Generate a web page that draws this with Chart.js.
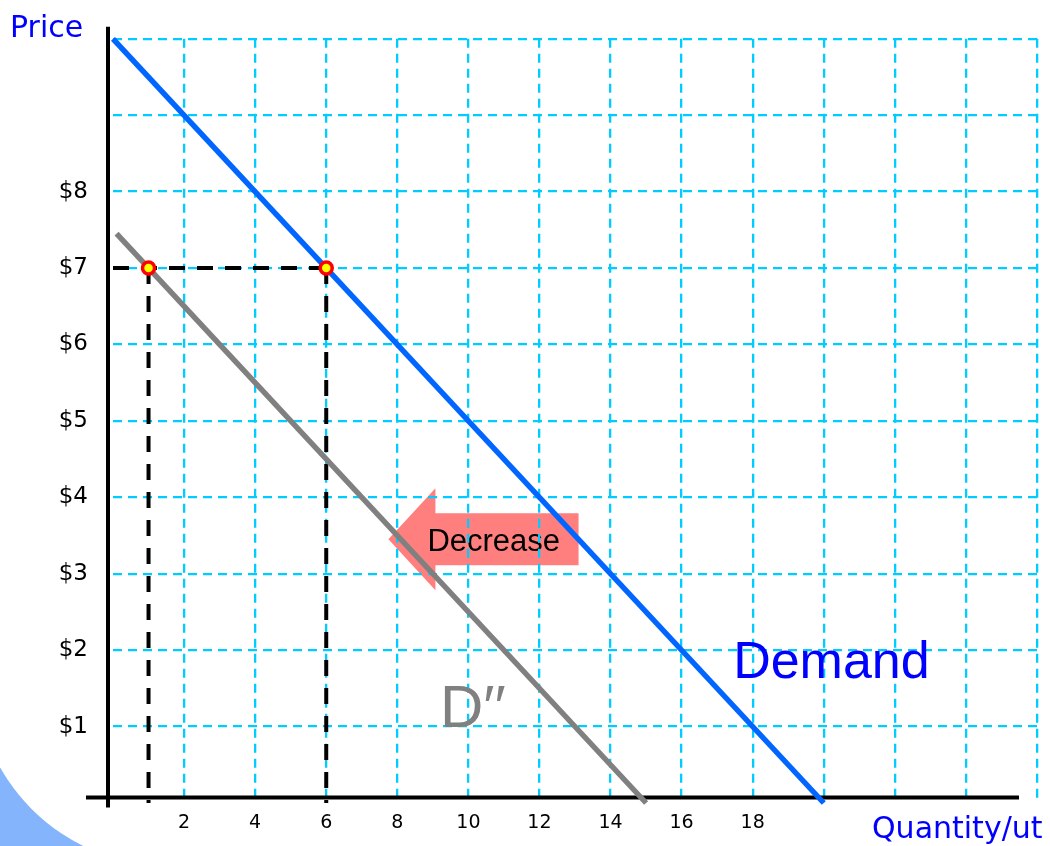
<!DOCTYPE html>
<html>
<head>
<meta charset="utf-8">
<title>Decrease in Demand</title>
<script src="https://cdn.jsdelivr.net/npm/chart.js@4.4.1/dist/chart.umd.min.js"></script>
<style>
  html, body { margin: 0; padding: 0; background: #ffffff; }
  canvas { display: block; }
</style>
</head>
<body>
<canvas id="chart" width="1050" height="846"></canvas>
<script>
// Original demand curve (quantity, price)
const demandQ = [0, 20];
const demandP = [10, 0];

// Demand after the decrease (D'')
const decreasedQ = [0.1, 15];
const decreasedP = [7.45, 0];

// Quantities demanded at a price of $7 on each curve
const pointQ = [1, 6];
const pointP = [7, 7];

// Axis ticks
const xTickValues = [0, 2, 4, 6, 8, 10, 12, 14, 16, 18, 20, 22, 24, 26];
const xTickLabels = ['', '2', '4', '6', '8', '10', '12', '14', '16', '18', '', '', '', ''];
const yTickValues = [0, 1, 2, 3, 4, 5, 6, 7, 8, 9, 10];
const yTickLabels = ['', '$1', '$2', '$3', '$4', '$5', '$6', '$7', '$8', '', ''];

// Shift arrow: from quantity 13.1 back to 7.75 at price 3.45
const arrowQ = [13.1, 7.75];
const arrowP = 3.45;

const toPoints = (qs, ps) => qs.map((q, i) => ({ x: q, y: ps[i] }));

const GRID = '#00CCFF';
const BLUE_TEXT = '#0000FF';

const decor = {
  id: 'decor',
  beforeDraw(chart) {
    const { ctx } = chart;
    const xs = chart.scales.x, ys = chart.scales.y;

    // slide swoosh in the lower-left corner
    ctx.save();
    ctx.beginPath();
    ctx.rect(0, 740, 120, 106);
    ctx.clip();
    ctx.fillStyle = '#84B4FB';
    ctx.fillRect(0, 740, 120, 106);
    ctx.beginPath();
    ctx.arc(169, 672, 194, 0, Math.PI * 2);
    ctx.fillStyle = '#ffffff';
    ctx.fill();
    ctx.restore();

    // "Decrease" arrow pointing left
    const tail = xs.getPixelForValue(arrowQ[0]);
    const tip = xs.getPixelForValue(arrowQ[1]);
    const cy = ys.getPixelForValue(arrowP);
    const head = 47, shaft = 26, barb = 51;
    ctx.save();
    ctx.beginPath();
    ctx.moveTo(tip, cy);
    ctx.lineTo(tip + head, cy - barb);
    ctx.lineTo(tip + head, cy - shaft);
    ctx.lineTo(tail, cy - shaft);
    ctx.lineTo(tail, cy + shaft);
    ctx.lineTo(tip + head, cy + shaft);
    ctx.lineTo(tip + head, cy + barb);
    ctx.closePath();
    ctx.fillStyle = '#FF7F7F';
    ctx.fill();
    ctx.font = '31px "Liberation Sans", Arial, sans-serif';
    ctx.fillStyle = '#000000';
    ctx.textAlign = 'left';
    ctx.textBaseline = 'alphabetic';
    ctx.fillText('Decrease', tip + 39, cy + 12);
    ctx.restore();
  },
  beforeDatasetsDraw(chart) {
    // heavy black axes
    const { ctx, chartArea } = chart;
    const x0 = chart.scales.x.getPixelForValue(0) - 5;
    const y0 = chart.scales.y.getPixelForValue(0) - 5.5;
    ctx.save();
    ctx.strokeStyle = '#000000';
    ctx.lineWidth = 4;
    ctx.beginPath();
    ctx.moveTo(x0, chartArea.top - 12);
    ctx.lineTo(x0, y0 + 10);
    ctx.moveTo(x0 - 22, y0);
    ctx.lineTo(chartArea.right - 18, y0);
    ctx.stroke();
    ctx.restore();
  },
  afterDraw(chart) {
    const { ctx } = chart;
    const xs = chart.scales.x, ys = chart.scales.y;
    ctx.save();
    ctx.textAlign = 'left';
    ctx.textBaseline = 'alphabetic';

    ctx.fillStyle = BLUE_TEXT;
    ctx.font = '30px "DejaVu Sans", Verdana, sans-serif';
    ctx.fillText('Price', 10, 37);
    ctx.fillText('Quantity/ut', 872, 838);

    ctx.font = '52px "Liberation Sans", Arial, sans-serif';
    ctx.fillText('Demand', xs.getPixelForValue(17.45), ys.getPixelForValue(1.63));

    ctx.fillStyle = '#808080';
    ctx.font = '60px "Liberation Sans", Arial, sans-serif';
    ctx.fillText('D\u2032\u2032', xs.getPixelForValue(9.2), ys.getPixelForValue(1.0));
    ctx.restore();
  }
};

const guide = (from, to) => ({
  label: 'Guide',
  data: [from, to],
  showLine: true,
  borderColor: '#000000',
  borderWidth: 4,
  borderDash: [16, 12],
  pointRadius: 0,
  order: 2,
  clip: false
});

new Chart(document.getElementById('chart'), {
  type: 'scatter',
  data: {
    datasets: [
      {
        label: 'Quantity demanded at $7',
        data: toPoints(pointQ, pointP),
        showLine: false,
        pointRadius: 6,
        pointBorderWidth: 3.5,
        pointBackgroundColor: '#FFFF00',
        pointBorderColor: '#FF0000',
        order: 0,
        clip: false
      },
      {
        label: 'Demand',
        data: toPoints(demandQ, demandP),
        showLine: true,
        borderColor: '#0066FF',
        borderWidth: 5.5,
        pointRadius: 0,
        order: 1,
        clip: false
      },
      {
        label: "D''",
        data: toPoints(decreasedQ, decreasedP),
        showLine: true,
        borderColor: '#808080',
        borderWidth: 5.5,
        pointRadius: 0,
        order: 1,
        clip: false
      },
      guide({ x: 0, y: pointP[1] }, { x: pointQ[1], y: pointP[1] }),
      guide({ x: pointQ[0], y: pointP[0] }, { x: pointQ[0], y: 0 }),
      guide({ x: pointQ[1], y: pointP[1] }, { x: pointQ[1], y: 0 })
    ]
  },
  options: {
    responsive: false,
    animation: false,
    events: [],
    layout: { padding: { left: 0, right: 13, top: 37, bottom: 0 } },
    plugins: {
      legend: { display: false },
      tooltip: { enabled: false }
    },
    scales: {
      x: {
        type: 'linear',
        min: xTickValues[0],
        max: xTickValues[xTickValues.length - 1],
        afterFit(scale) { scale.height = 43; },
        afterBuildTicks(scale) { scale.ticks = xTickValues.map(v => ({ value: v })); },
        ticks: {
          autoSkip: false,
          maxRotation: 0,
          padding: 9,
          color: '#000000',
          font: { family: '"DejaVu Sans", Verdana, sans-serif', size: 19 },
          callback: (v) => xTickLabels[xTickValues.indexOf(v)] ?? ''
        },
        grid: {
          drawTicks: false,
          lineWidth: 2.3,
          color: (c) => (c.tick && c.tick.value === 0 ? 'rgba(0,0,0,0)' : GRID)
        },
        border: { display: false, dash: [9, 6] }
      },
      y: {
        type: 'linear',
        min: yTickValues[0],
        max: yTickValues[yTickValues.length - 1],
        afterFit(scale) { scale.width = 113; },
        afterBuildTicks(scale) { scale.ticks = yTickValues.map(v => ({ value: v })); },
        ticks: {
          autoSkip: false,
          padding: 25,
          color: '#000000',
          font: { family: '"DejaVu Sans", Verdana, sans-serif', size: 23 },
          callback: (v) => yTickLabels[yTickValues.indexOf(v)] ?? ''
        },
        grid: {
          drawTicks: false,
          lineWidth: 2.3,
          color: (c) => (c.tick && c.tick.value === 0 ? 'rgba(0,0,0,0)' : GRID)
        },
        border: { display: false, dash: [9, 6] }
      }
    }
  },
  plugins: [decor]
});
</script>
</body>
</html>
